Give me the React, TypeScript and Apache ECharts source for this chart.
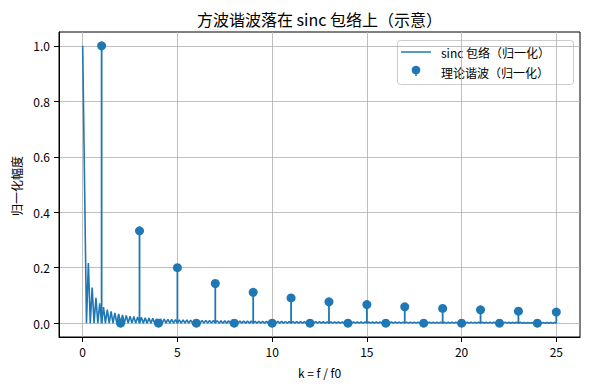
import React, { useEffect, useRef } from "react";
import * as echarts from "echarts";

// ---- data ----
const harmonicK = [1, 2, 3, 4, 5, 6, 7, 8, 9, 10, 11, 12, 13, 14, 15, 16, 17, 18, 19, 20, 21, 22, 23, 24, 25];
const harmonicAmp = [
  1.0, 0, 0.333, 0, 0.2, 0, 0.143, 0, 0.111, 0, 0.091, 0, 0.077, 0, 0.067, 0, 0.059, 0, 0.053, 0, 0.048, 0, 0.043, 0, 0.04,
];

// sinc envelope: value at k = 0, width of each side lobe (in k), and the peak of each side lobe
const envelopeStart = [0, 1.0];
const envelopeEndK = 25;
const envelopeLobeWidth = 0.2;
const envelopeLobePeaks = [
  0.217, 0.128, 0.091, 0.071, 0.058, 0.049, 0.042, 0.037, 0.033, 0.03,
  0.028, 0.025, 0.024, 0.022, 0.021, 0.019, 0.018, 0.017, 0.016, 0.016,
  0.015, 0.014, 0.014, 0.013, 0.012, 0.012, 0.012, 0.011, 0.011, 0.01,
  0.01, 0.01, 0.0095, 0.0092, 0.009, 0.0087, 0.0085, 0.0083, 0.0081, 0.0079,
  0.0077, 0.0075, 0.0073, 0.0072, 0.007, 0.0068, 0.0067, 0.0066, 0.0064, 0.0063,
  0.0062, 0.0061, 0.0059, 0.0058, 0.0057, 0.0056, 0.0055, 0.0054, 0.0053, 0.0053,
  0.0052, 0.0051, 0.005, 0.0049, 0.0049, 0.0048, 0.0047, 0.0046, 0.0046, 0.0045,
  0.0045, 0.0044, 0.0043, 0.0043, 0.0042, 0.0042, 0.0041, 0.0041, 0.004, 0.004,
  0.0039, 0.0039, 0.0038, 0.0038, 0.0037, 0.0037, 0.0036, 0.0036, 0.0036, 0.0035,
  0.0035, 0.0034, 0.0034, 0.0034, 0.0033, 0.0033, 0.0033, 0.0032, 0.0032, 0.0032,
  0.0031, 0.0031, 0.0031, 0.003, 0.003, 0.003, 0.003, 0.0029, 0.0029, 0.0029,
  0.0029, 0.0028, 0.0028, 0.0028, 0.0028, 0.0027, 0.0027, 0.0027, 0.0027, 0.0026,
  0.0026, 0.0026, 0.0026, 0.0026,
];

const xTicks = [0, 5, 10, 15, 20, 25];
const yTicks = [0, 0.2, 0.4, 0.6, 0.8, 1.0];
const xRange = [-1.25, 26.25];
const yRange = [-0.05, 1.05];

const titleText = "方波谐波落在 sinc 包络上（示意）";
const xName = "k = f / f0";
const yName = "归一化幅度";
const envelopeName = "sinc 包络（归一化）";
const harmonicName = "理论谐波（归一化）";

const BLUE = "#1f77b4";
const FONT = "'Noto Sans CJK SC', 'Noto Sans', sans-serif";

export default function App() {
  const ref = useRef<HTMLDivElement>(null);

  useEffect(() => {
    if (!ref.current) return;
    const chart = echarts.init(ref.current, null, { renderer: "svg" });

    const envelope: number[][] = [envelopeStart];
    envelopeLobePeaks.forEach((p, i) => {
      const n = i + 1;
      envelope.push([+(n * envelopeLobeWidth).toFixed(4), 0]);
      envelope.push([+((n + 0.5) * envelopeLobeWidth).toFixed(4), p]);
    });
    envelope.push([envelopeEndK, 0]);

    const harmonics = harmonicK.map((k, i) => [k, harmonicAmp[i]]);

    const axisLabelStyle = { color: "#000", fontSize: 12, fontFamily: FONT };

    chart.setOption({
      animation: false,
      backgroundColor: "#fff",
      grid: {
        left: 59,
        right: 10,
        top: 32,
        bottom: 53,
        show: true,
        borderColor: "#000",
        borderWidth: 1,
        backgroundColor: "transparent",
      },
      xAxis: {
        type: "value",
        min: xRange[0],
        max: xRange[1],
        axisLine: { show: true, onZero: false, lineStyle: { color: "#000", width: 1 } },
        axisTick: { show: true, inside: false, length: 5, lineStyle: { color: "#000" }, customValues: xTicks },
        axisLabel: { ...axisLabelStyle, margin: 8, customValues: xTicks, formatter: (v: number) => String(v) },
        splitLine: { show: true, lineStyle: { color: "#b0b0b0", width: 0.8 } },
      },
      yAxis: {
        type: "value",
        min: yRange[0],
        max: yRange[1],
        axisLine: { show: true, onZero: false, lineStyle: { color: "#000", width: 1 } },
        axisTick: { show: true, inside: false, length: 5, lineStyle: { color: "#000" }, customValues: yTicks },
        axisLabel: { ...axisLabelStyle, margin: 9, customValues: yTicks, formatter: (v: number) => v.toFixed(1) },
        splitLine: { show: true, lineStyle: { color: "#b0b0b0", width: 0.8 } },
      },
      series: [
        {
          name: envelopeName,
          type: "line",
          data: envelope,
          showSymbol: false,
          symbol: "none",
          lineStyle: { color: BLUE, width: 1.6 },
          itemStyle: { color: BLUE },
          clip: true,
          z: 2,
        },
        {
          name: harmonicName,
          type: "custom",
          data: harmonics,
          encode: { x: 0, y: 1 },
          renderItem: (params: any, api: any) => {
            const k = api.value(0);
            const p0 = api.coord([k, 0]);
            const p1 = api.coord([k, api.value(1)]);
            return {
              type: "line",
              shape: { x1: p0[0], y1: p0[1], x2: p1[0], y2: p1[1] },
              style: { stroke: BLUE, lineWidth: 1.8 },
            };
          },
          z: 3,
        },
        {
          name: harmonicName,
          type: "scatter",
          data: harmonics,
          symbol: "circle",
          symbolSize: 9,
          itemStyle: { color: BLUE, opacity: 1 },
          z: 4,
        },
      ],
      graphic: [
        {
          type: "text",
          x: 319.5,
          y: 19,
          style: { text: titleText, fontSize: 16, fontFamily: FONT, fill: "#000", align: "center", verticalAlign: "middle" },
        },
        {
          type: "text",
          x: 319.5,
          y: 372,
          style: { text: xName, fontSize: 12, fontFamily: FONT, fill: "#000", align: "center", verticalAlign: "middle" },
        },
        {
          type: "text",
          x: 16,
          y: 186,
          rotation: Math.PI / 2,
          style: { text: yName, fontSize: 12, fontFamily: FONT, fill: "#000", align: "center", verticalAlign: "middle" },
        },
        {
          type: "group",
          z: 100,
          children: [
            {
              type: "rect",
              shape: { x: 397.5, y: 40.5, width: 176, height: 44, r: 3 },
              style: { fill: "rgba(255,255,255,0.8)", stroke: "#cccccc", lineWidth: 1 },
            },
            {
              type: "line",
              shape: { x1: 401, y1: 52, x2: 431, y2: 52 },
              style: { stroke: BLUE, lineWidth: 1.5 },
            },
            {
              type: "line",
              shape: { x1: 416, y1: 70, x2: 416, y2: 76 },
              style: { stroke: BLUE, lineWidth: 1.5 },
            },
            {
              type: "circle",
              shape: { cx: 416, cy: 70, r: 4.3 },
              style: { fill: BLUE },
            },
            {
              type: "text",
              x: 441,
              y: 52,
              style: { text: envelopeName, fontSize: 12, fontFamily: FONT, fill: "#000", align: "left", verticalAlign: "middle" },
            },
            {
              type: "text",
              x: 441,
              y: 72,
              style: { text: harmonicName, fontSize: 12, fontFamily: FONT, fill: "#000", align: "left", verticalAlign: "middle" },
            },
          ],
        },
      ],
    });

    return () => chart.dispose();
  }, []);

  return (
    <div
      ref={ref}
      style={{ position: "fixed", left: 0, top: 0, width: 590, height: 390, background: "#fff" }}
    />
  );
}
